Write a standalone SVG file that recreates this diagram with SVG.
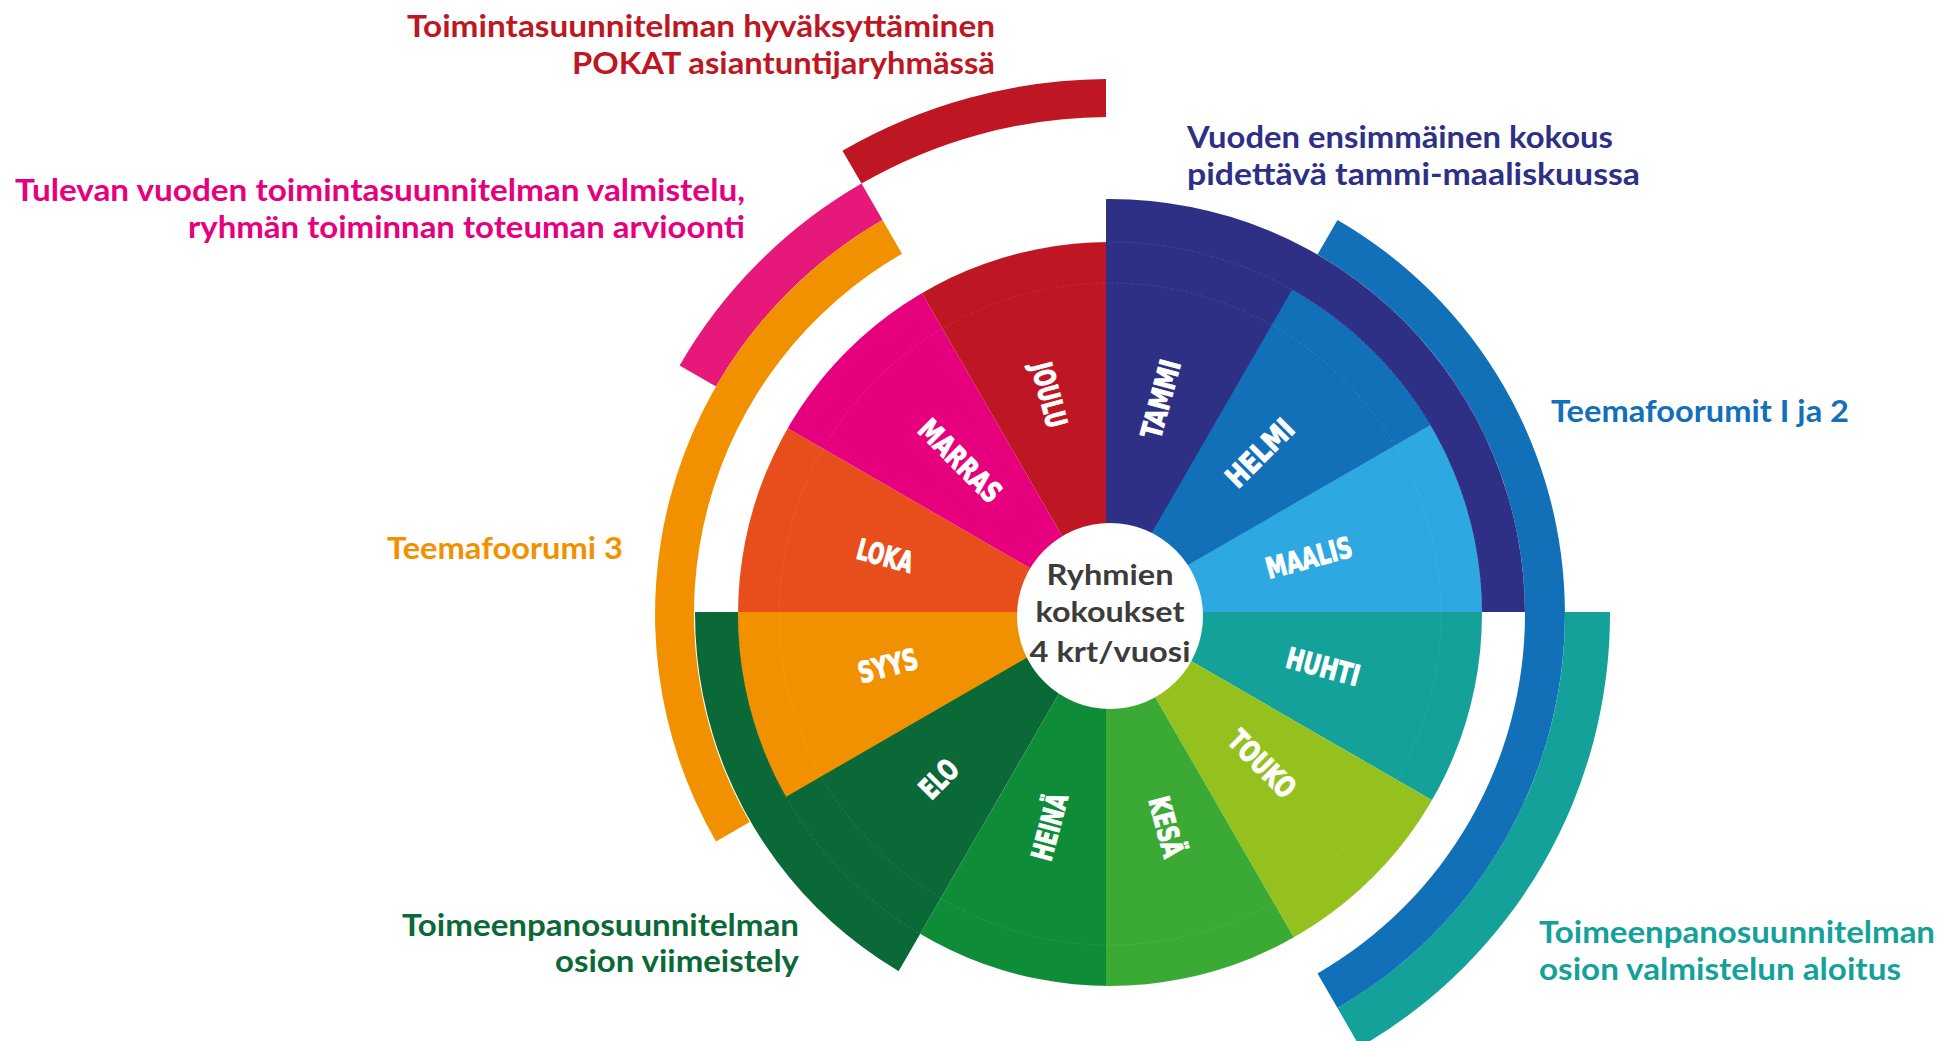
<svg xmlns="http://www.w3.org/2000/svg" width="1945" height="1041" viewBox="0 0 1945 1041">
<defs>
<clipPath id="wheel"><circle cx="1110" cy="614" r="372"/></clipPath>
<clipPath id="ext"><circle cx="1110" cy="614" r="415"/></clipPath>
</defs>
<style>
.ann{font-family:Lato,"Open Sans","Liberation Sans",sans-serif;font-weight:700;font-size:31px}
.m{font-family:"Liberation Sans Narrow","DejaVu Sans Condensed","Liberation Sans",sans-serif;font-weight:700;font-size:29px;fill:#fff;stroke:#fff;stroke-width:1;text-anchor:middle}
.ctr{font-family:Lato,"Open Sans","Liberation Sans",sans-serif;font-weight:700;font-size:29px;fill:#3C3C3B;text-anchor:middle}
.faint{fill:none;stroke:#fff;stroke-opacity:.08;stroke-width:1.2;stroke-dasharray:3 2}
</style>
<rect width="1945" height="1041" fill="#fff"/>

<g id="bands">
  <g id="band-hyvaksyttaminen">
    <path d="M842.5 150.7 A535 535 0 0 1 1106 79 L1106 117 A497 497 0 0 0 861.5 183.6 Z" fill="#BE1622"/>
    <text class="ann" fill="#BE1622" text-anchor="end" x="995" y="37" textLength="588" lengthAdjust="spacingAndGlyphs">Toimintasuunnitelman hyväksyttäminen</text>
    <text class="ann" fill="#BE1622" text-anchor="end" x="995" y="74" textLength="423" lengthAdjust="spacingAndGlyphs">POKAT asiantuntijaryhmässä</text>
  </g>
  <g id="band-valmistelu">
    <path d="M679.6 365.5 A497 497 0 0 1 861.5 183.6 L882.5 220 A455 455 0 0 0 716 386.5 Z" fill="#E6197A"/>
    <text class="ann" fill="#E6007E" text-anchor="end" x="745" y="201" textLength="730" lengthAdjust="spacingAndGlyphs">Tulevan vuoden toimintasuunnitelman valmistelu,</text>
    <text class="ann" fill="#E6007E" text-anchor="end" x="745" y="238" textLength="557" lengthAdjust="spacingAndGlyphs">ryhmän toiminnan toteuman arvioonti</text>
  </g>
  <g id="band-teemafoorumi3">
    <path d="M716 841.5 A455 455 0 0 1 882.5 220 L902 253.7 A416 416 0 0 0 749.7 822 Z" fill="#F29100"/>
    <text class="ann" fill="#F29100" x="387" y="559" textLength="236" lengthAdjust="spacingAndGlyphs">Teemafoorumi 3</text>
  </g>
  <g id="band-aloitus">
    <path d="M1610 612 A500 500 0 0 1 1360 1047 L1337.5 1008 A455 455 0 0 0 1565 612 Z" fill="#13A19A"/>
    <text class="ann" fill="#13A19A" x="1539" y="943" textLength="396" lengthAdjust="spacingAndGlyphs">Toimeenpanosuunnitelman</text>
    <text class="ann" fill="#13A19A" x="1539" y="980" textLength="362" lengthAdjust="spacingAndGlyphs">osion valmistelun aloitus</text>
  </g>
  <g id="band-teemafoorumit">
    <path d="M1337.5 220 A455 455 0 0 1 1337.5 1008 L1317.5 973.4 A415 415 0 0 0 1317.5 254.6 Z" fill="#1170B8"/>
    <text class="ann" fill="#1170B8" x="1551" y="422" textLength="298" lengthAdjust="spacingAndGlyphs">Teemafoorumit I ja 2</text>
  </g>
</g>

<g id="wheel-months">
  <g id="tammi">
    <path clip-path="url(#ext)" d="M1106 612 L1106 -88 L1456 5.8 L1712.2 262 L1806 612 Z" fill="#2E3085"/>
    <text class="ann" fill="#2E3085" x="1187" y="148" textLength="426" lengthAdjust="spacingAndGlyphs">Vuoden ensimmäinen kokous</text>
    <text class="ann" fill="#2E3085" x="1187" y="185" textLength="453" lengthAdjust="spacingAndGlyphs">pidettävä tammi-maaliskuussa</text>
  </g>
  <g id="elo">
    <path clip-path="url(#ext)" d="M1106 612 L756 1218.2 L499.8 962 L406 612 Z" fill="#0A6936"/>
    <text class="ann" fill="#0A6936" text-anchor="end" x="799" y="936" textLength="397" lengthAdjust="spacingAndGlyphs">Toimeenpanosuunnitelman</text>
    <text class="ann" fill="#0A6936" text-anchor="end" x="799" y="972" textLength="244" lengthAdjust="spacingAndGlyphs">osion viimeistely</text>
  </g>
  <g id="helmi"><path clip-path="url(#wheel)" d="M1106 612 L1456 5.8 L1712.2 262 Z" fill="#1170B8"/></g>
  <g id="maalis"><path clip-path="url(#wheel)" d="M1106 612 L1712.2 262 L1806 612 Z" fill="#2EA8E0"/></g>
  <g id="huhti"><path clip-path="url(#wheel)" d="M1106 612 L1806 612 L1712.2 962 Z" fill="#13A19A"/></g>
  <g id="touko"><path clip-path="url(#wheel)" d="M1106 612 L1712.2 962 L1456 1218.2 Z" fill="#95C11F"/></g>
  <g id="kesa"><path clip-path="url(#wheel)" d="M1106 612 L1456 1218.2 L1106 1312 Z" fill="#3AAA35"/></g>
  <g id="heina"><path clip-path="url(#wheel)" d="M1106 612 L1106 1312 L756 1218.2 Z" fill="#0F8C38"/></g>
  <g id="syys"><path clip-path="url(#wheel)" d="M1106 612 L499.8 962 L406 612 Z" fill="#F29100"/></g>
  <g id="loka"><path clip-path="url(#wheel)" d="M1106 612 L406 612 L499.8 262 Z" fill="#E84E1B"/></g>
  <g id="marras"><path clip-path="url(#wheel)" d="M1106 612 L499.8 262 L756 5.8 Z" fill="#E6007E"/></g>
  <g id="joulu"><path clip-path="url(#wheel)" d="M1106 612 L756 5.8 L1106 -88 Z" fill="#BE1622"/></g>

  <circle class="faint" clip-path="url(#wheel)" cx="1110" cy="614" r="331"/>
  <circle class="faint" clip-path="url(#ext)" cx="1110" cy="614" r="372"/>

  <g id="month-labels">
    <text class="m" transform="translate(1161,399) rotate(-75)" y="10" textLength="80" lengthAdjust="spacingAndGlyphs">TAMMI</text>
    <text class="m" transform="translate(1260,453) rotate(-45)" y="10" textLength="83" lengthAdjust="spacingAndGlyphs">HELMI</text>
    <text class="m" transform="translate(1309,558) rotate(-15)" y="10" textLength="88" lengthAdjust="spacingAndGlyphs">MAALIS</text>
    <text class="m" transform="translate(1323,667) rotate(15)" y="10" textLength="75" lengthAdjust="spacingAndGlyphs">HUHTI</text>
    <text class="m" transform="translate(1262,764) rotate(45)" y="10" textLength="82" lengthAdjust="spacingAndGlyphs">TOUKO</text>
    <text class="m" transform="translate(1166,827) rotate(75)" y="10" textLength="62" lengthAdjust="spacingAndGlyphs">KESÄ</text>
    <text class="m" transform="translate(1050,827) rotate(-75)" y="10" textLength="68" lengthAdjust="spacingAndGlyphs">HEINÄ</text>
    <text class="m" transform="translate(939,779) rotate(-45)" y="10" textLength="42" lengthAdjust="spacingAndGlyphs">ELO</text>
    <text class="m" transform="translate(888,666) rotate(-15)" y="10" textLength="61" lengthAdjust="spacingAndGlyphs">SYYS</text>
    <text class="m" transform="translate(885,556) rotate(15)" y="10" textLength="57" lengthAdjust="spacingAndGlyphs">LOKA</text>
    <text class="m" transform="translate(960,461) rotate(45)" y="10" textLength="104" lengthAdjust="spacingAndGlyphs">MARRAS</text>
    <text class="m" transform="translate(1049,395) rotate(75)" y="10" textLength="66" lengthAdjust="spacingAndGlyphs">JOULU</text>
  </g>
</g>

<g id="center">
  <circle cx="1110" cy="616" r="93" fill="#fff"/>
  <text class="ctr" x="1110" y="585" textLength="127" lengthAdjust="spacingAndGlyphs">Ryhmien</text>
  <text class="ctr" x="1110" y="622" textLength="149" lengthAdjust="spacingAndGlyphs">kokoukset</text>
  <text class="ctr" x="1110" y="662" textLength="161" lengthAdjust="spacingAndGlyphs">4 krt/vuosi</text>
</g>

<g id="connectors"/>
</svg>
